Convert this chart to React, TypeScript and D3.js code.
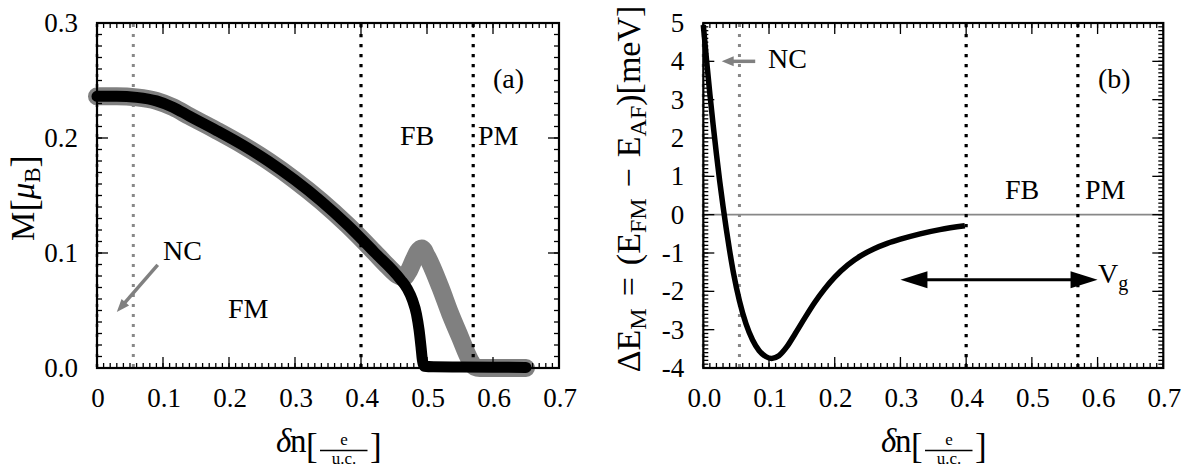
import React from 'react';
import * as d3 from 'd3';

const FONT = '"Liberation Serif", "Times New Roman", serif';

// ---------- data ----------
const xTickVals = [0, 0.1, 0.2, 0.3, 0.4, 0.5, 0.6, 0.7];
const leftXTickLabels = ['0', '0.1', '0.2', '0.3', '0.4', '0.5', '0.6', '0.7'];
const rightXTickLabels = ['0.0', '0.1', '0.2', '0.3', '0.4', '0.5', '0.6', '0.7'];
const leftYTickVals = [0, 0.1, 0.2, 0.3];
const leftYTickLabels = ['0.0', '0.1', '0.2', '0.3'];
const rightYTickVals = [-4, -3, -2, -1, 0, 1, 2, 3, 4, 5];
const rightYTickLabels = ['-4', '-3', '-2', '-1', '0', '1', '2', '3', '4', '5'];

// magnetization, black curve (delta n, M)
const magBlack: [number, number][] = [
  [0, 0.2362], [0.03, 0.2363], [0.06, 0.2353], [0.09, 0.2323], [0.115, 0.2268], [0.14, 0.219],
  [0.18, 0.2069], [0.22, 0.1941], [0.26, 0.1797], [0.3, 0.1633], [0.34, 0.1449], [0.38, 0.1241],
  [0.42, 0.1009], [0.46, 0.0769], [0.47, 0.069], [0.478, 0.059], [0.484, 0.047], [0.488, 0.033],
  [0.491, 0.018], [0.493, 0.007], [0.496, 0.0015], [0.51, 0.001], [0.55, 0.0008], [0.6, 0.0006],
  [0.65, 0.0005],
];

// magnetization, grey curve (delta n, M)
const magGray: [number, number][] = [
  [0, 0.2362], [0.03, 0.2363], [0.06, 0.2353], [0.09, 0.2323], [0.115, 0.2268], [0.14, 0.219],
  [0.18, 0.2069], [0.22, 0.1941], [0.26, 0.1797], [0.3, 0.1633], [0.34, 0.1449], [0.38, 0.1241],
  [0.42, 0.1009], [0.44, 0.0889], [0.455, 0.081], [0.465, 0.079], [0.472, 0.084], [0.48, 0.094],
  [0.486, 0.101], [0.492, 0.104], [0.5, 0.097], [0.52, 0.0705], [0.535, 0.0475], [0.55, 0.027],
  [0.565, 0.007], [0.572, 0.001], [0.58, 0], [0.62, 0], [0.65, 0],
];

// energy difference (delta n, meV)
const energyCurve: [number, number][] = [
  [0, 4.95], [0.005, 4.02], [0.01, 3.15], [0.015, 2.34], [0.02, 1.58], [0.025, 0.87], [0.03, 0.22],
  [0.035, -0.38], [0.04, -0.93], [0.046, -1.53], [0.055, -2.25], [0.065, -2.85], [0.075, -3.27],
  [0.085, -3.55], [0.095, -3.7], [0.104, -3.75], [0.115, -3.68], [0.127, -3.45], [0.14, -3.1],
  [0.155, -2.68], [0.17, -2.28], [0.185, -1.93], [0.2, -1.63], [0.22, -1.31], [0.24, -1.07],
  [0.26, -0.89], [0.28, -0.75], [0.3, -0.64], [0.33, -0.5], [0.36, -0.39], [0.398, -0.29],
];

const ncLines = [0, 0.055];
const phaseLines = [0.4, 0.57];

// ---------- helpers ----------
type Scale = d3.ScaleLinear<number, number>;

function arrowHead(x1: number, y1: number, x2: number, y2: number, len: number, half: number) {
  const a = Math.atan2(y2 - y1, x2 - x1);
  const bx = x2 - len * Math.cos(a);
  const by = y2 - len * Math.sin(a);
  const nx = -Math.sin(a) * half;
  const ny = Math.cos(a) * half;
  return `M${x2},${y2}L${bx + nx},${by + ny}L${bx - nx},${by - ny}Z`;
}

function Frame({ xs, ys, xMinorStep, yMinorStep, xLabels, yTicks, yLabels }: {
  xs: Scale; ys: Scale; xMinorStep: number; yMinorStep: number;
  xLabels: string[]; yTicks: number[]; yLabels: string[];
}) {
  const [x0, x1] = xs.range();
  const [yb, yt] = ys.range();
  const xd = xs.domain();
  const yd = ys.domain();
  const xMinor = d3.range(Math.round((xd[1] - xd[0]) / xMinorStep) + 1).map(i => xd[0] + i * xMinorStep);
  const yMinor = d3.range(Math.round((yd[1] - yd[0]) / yMinorStep) + 1).map(i => yd[0] + i * yMinorStep);
  const minorL = 5;
  const majorL = 11;
  return (
    <g>
      <g stroke="#000" strokeWidth={1.3}>
        {xMinor.map((v, i) => (
          <g key={'xm' + i}>
            <line x1={xs(v)} x2={xs(v)} y1={yb} y2={yb - minorL} />
            <line x1={xs(v)} x2={xs(v)} y1={yt} y2={yt + minorL} />
          </g>
        ))}
        {xTickVals.map((v, i) => (
          <g key={'xM' + i}>
            <line x1={xs(v)} x2={xs(v)} y1={yb} y2={yb - majorL} />
            <line x1={xs(v)} x2={xs(v)} y1={yt} y2={yt + majorL} />
          </g>
        ))}
        {yMinor.map((v, i) => (
          <g key={'ym' + i}>
            <line x1={x0} x2={x0 + minorL} y1={ys(v)} y2={ys(v)} />
            <line x1={x1} x2={x1 - minorL} y1={ys(v)} y2={ys(v)} />
          </g>
        ))}
        {yTicks.map((v, i) => (
          <g key={'yM' + i}>
            <line x1={x0} x2={x0 + majorL} y1={ys(v)} y2={ys(v)} />
            <line x1={x1} x2={x1 - majorL} y1={ys(v)} y2={ys(v)} />
          </g>
        ))}
      </g>
      <rect x={x0} y={yt} width={x1 - x0} height={yb - yt} fill="none" stroke="#000" strokeWidth={2.2} />
      <g fontFamily={FONT} fontSize={27} fill="#000">
        {xTickVals.map((v, i) => (
          <text key={'xl' + i} x={xs(v) + 1} y={407} textAnchor="middle">{xLabels[i]}</text>
        ))}
        {yTicks.map((v, i) => (
          <text key={'yl' + i} x={x0 - 19} y={ys(v) + 9} textAnchor="end">{yLabels[i]}</text>
        ))}
      </g>
    </g>
  );
}

function XTitle({ cx }: { cx: number }) {
  const fc = cx + 16;
  return (
    <g fontFamily={FONT} fill="#000">
      <text x={cx - 52} y={452} fontSize={33} fontStyle="italic">δ</text>
      <text x={cx - 38} y={452} fontSize={33}>n</text>
      <text x={cx - 22} y={458} fontSize={35}>[</text>
      <text x={fc} y={445} fontSize={17} textAnchor="middle">e</text>
      <line x1={cx - 8} x2={cx + 39.5} y1={450.5} y2={450.5} stroke="#000" strokeWidth={1.3} />
      <text x={fc} y={464} fontSize={17} textAnchor="middle">u.c.</text>
      <text x={cx + 42} y={458} fontSize={35}>]</text>
    </g>
  );
}

export default function App() {
  const W = 1191;
  const H = 468;
  const xL = d3.scaleLinear().domain([0, 0.7]).range([97, 559]);
  const yL = d3.scaleLinear().domain([0, 0.3]).range([368, 23]);
  const xR = d3.scaleLinear().domain([0, 0.7]).range([703.3, 1163.3]);
  const yR = d3.scaleLinear().domain([-4, 5]).range([368, 23]);

  const lineL = d3.line<[number, number]>().x(d => xL(d[0])).y(d => yL(d[1])).curve(d3.curveMonotoneX);
  const lineR = d3.line<[number, number]>().x(d => xR(d[0])).y(d => yR(d[1])).curve(d3.curveMonotoneX);

  // arrows (data coordinates)
  const ncArrowL = { from: [0.092, 0.0896], to: [0.03, 0.0487] };
  const ncArrowR = { from: [0.079, 4], to: [0.028, 4] };
  const vgArrow = { from: [0.3, -1.7], to: [0.6, -1.7] };

  const aL = [xL(ncArrowL.from[0]), yL(ncArrowL.from[1]), xL(ncArrowL.to[0]), yL(ncArrowL.to[1])];
  const aR = [xR(ncArrowR.from[0]), yR(ncArrowR.from[1]), xR(ncArrowR.to[0]), yR(ncArrowR.to[1])];
  const vg = [xR(vgArrow.from[0]), yR(vgArrow.from[1]), xR(vgArrow.to[0]), yR(vgArrow.to[1])];

  const shorten = (a: number[], d: number) => {
    const ang = Math.atan2(a[3] - a[1], a[2] - a[0]);
    return [a[0], a[1], a[2] - d * Math.cos(ang), a[3] - d * Math.sin(ang)];
  };
  const aLs = shorten(aL, 8);
  const aRs = shorten(aR, 8);

  return (
    <svg width={W} height={H} style={{ position: 'absolute', left: 0, top: 0, background: '#fff' }}>
      <rect width={W} height={H} fill="#fff" />

      {/* ---------- panel (a) ---------- */}
      <path d={lineL(magGray) || ''} fill="none" stroke="#808080" strokeWidth={18} strokeLinecap="round" strokeLinejoin="round" />
      {ncLines.map((v, i) => (
        <line key={'ncl' + i} x1={xL(v)} x2={xL(v)} y1={24} y2={367} stroke="#888" strokeWidth={3} strokeDasharray="3 7" />
      ))}
      {phaseLines.map((v, i) => (
        <line key={'pl' + i} x1={xL(v)} x2={xL(v)} y1={24} y2={367} stroke="#000" strokeWidth={3.2} strokeDasharray="3.3 6.7" />
      ))}
      <path d={lineL(magBlack) || ''} fill="none" stroke="#000" strokeWidth={11} strokeLinecap="round" strokeLinejoin="round" />
      <line x1={aLs[0]} y1={aLs[1]} x2={aLs[2]} y2={aLs[3]} stroke="#808080" strokeWidth={3.5} />
      <path d={arrowHead(aL[0], aL[1], aL[2], aL[3], 13, 5)} fill="#808080" />
      <Frame xs={xL} ys={yL} xMinorStep={0.01} yMinorStep={0.01} xLabels={leftXTickLabels} yTicks={leftYTickVals} yLabels={leftYTickLabels} />
      <g fontFamily={FONT} fontSize={28} fill="#000">
        <text x={493} y={88}>(a)</text>
        <text x={400} y={145}>FB</text>
        <text x={478} y={145}>PM</text>
        <text x={163} y={260}>NC</text>
        <text x={228} y={318}>FM</text>
      </g>
      <text transform="translate(34,198) rotate(-90)" fontFamily={FONT} fontSize={33} textAnchor="middle" fill="#000">
        <tspan>M</tspan>
        <tspan fontSize={37} dy={3}>[</tspan>
        <tspan fontStyle="italic" dy={-3}>μ</tspan>
        <tspan fontSize={23} dy={6}>B</tspan>
        <tspan fontSize={37} dy={-3}>]</tspan>
      </text>
      <XTitle cx={328} />

      {/* ---------- panel (b) ---------- */}
      <line x1={xR(0)} x2={xR(0.7)} y1={yR(0)} y2={yR(0)} stroke="#888" strokeWidth={1.6} />
      {ncLines.map((v, i) => (
        <line key={'ncr' + i} x1={xR(v)} x2={xR(v)} y1={24} y2={367} stroke="#888" strokeWidth={3} strokeDasharray="3 7" />
      ))}
      {phaseLines.map((v, i) => (
        <line key={'pr' + i} x1={xR(v)} x2={xR(v)} y1={24} y2={367} stroke="#000" strokeWidth={3.2} strokeDasharray="3.3 6.7" />
      ))}
      <path d={lineR(energyCurve) || ''} fill="none" stroke="#000" strokeWidth={5.5} strokeLinejoin="round" />
      <line x1={aRs[0]} y1={aRs[1]} x2={aRs[2]} y2={aRs[3]} stroke="#808080" strokeWidth={3.5} />
      <path d={arrowHead(aR[0], aR[1], aR[2], aR[3], 12, 5)} fill="#808080" />
      <line x1={vg[0] + 20} y1={vg[1]} x2={vg[2] - 20} y2={vg[3]} stroke="#000" strokeWidth={3} />
      <path d={arrowHead(vg[2], vg[3], vg[0], vg[1], 27, 8.5)} fill="#000" />
      <path d={arrowHead(vg[0], vg[1], vg[2], vg[3], 27, 8.5)} fill="#000" />
      <Frame xs={xR} ys={yR} xMinorStep={0.01} yMinorStep={0.1} xLabels={rightXTickLabels} yTicks={rightYTickVals} yLabels={rightYTickLabels} />
      <g fontFamily={FONT} fontSize={28} fill="#000">
        <text x={768} y={68}>NC</text>
        <text x={1098} y={88}>(b)</text>
        <text x={1005} y={199}>FB</text>
        <text x={1085} y={199}>PM</text>
        <text x={1098} y={283}>V<tspan fontSize={20} dy={7}>g</tspan></text>
      </g>
      <text transform="translate(640,189) rotate(-90)" fontFamily={FONT} fontSize={34} textAnchor="middle" fill="#000">
        <tspan>ΔE</tspan>
        <tspan fontSize={24} dy={6}>M</tspan>
        <tspan dy={-6} dx={12}>=</tspan>
        <tspan dx={12}>(E</tspan>
        <tspan fontSize={24} dy={6}>FM</tspan>
        <tspan dy={-6} dx={11}>−</tspan>
        <tspan dx={11}>E</tspan>
        <tspan fontSize={24} dy={6}>AF</tspan>
        <tspan dy={-6}>)[meV]</tspan>
      </text>
      <XTitle cx={933} />
    </svg>
  );
}
